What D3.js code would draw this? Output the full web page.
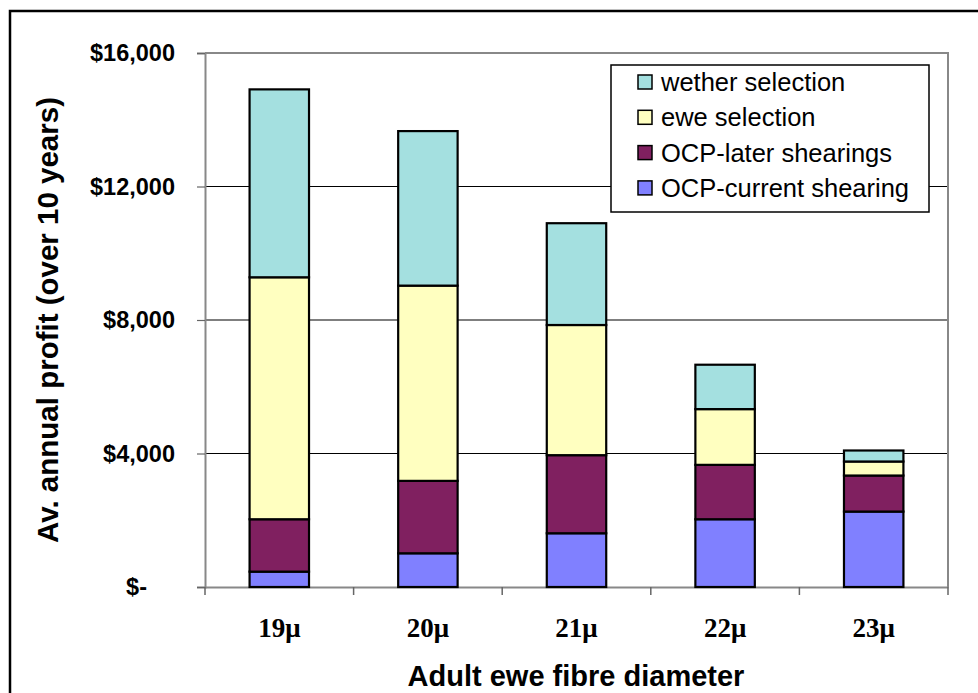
<!DOCTYPE html>
<html>
<head>
<meta charset="utf-8">
<script src="https://cdn.jsdelivr.net/npm/d3@7"></script>
<style>
  html, body { margin: 0; padding: 0; background: #fff; }
  svg { display: block; }
</style>
</head>
<body>
<svg id="chart" width="978" height="693"></svg>
<script>
// ---- data ----
const categories = ["19\u03BC", "20\u03BC", "21\u03BC", "22\u03BC", "23\u03BC"];
const seriesNames = ["OCP-current shearing", "OCP-later shearings", "ewe selection", "wether selection"];
const ocpCurrent = [460, 1010, 1610, 2030, 2260];
const ocpLater   = [1570, 2170, 2340, 1630, 1080];
const eweSel     = [7250, 5850, 3900, 1670, 420];
const wetherSel  = [5630, 4630, 3050, 1330, 330];
const yTickValues = [0, 4000, 8000, 12000, 16000];
const yTickLabels = ["$-", "$4,000", "$8,000", "$12,000", "$16,000"];
const legendOrder = ["wether selection", "ewe selection", "OCP-later shearings", "OCP-current shearing"];
const colors = {
  "OCP-current shearing": "#8080FF",
  "OCP-later shearings": "#802060",
  "ewe selection": "#FFFFC0",
  "wether selection": "#A4E0E0"
};

const seriesValues = [ocpCurrent, ocpLater, eweSel, wetherSel];
const rows = categories.map((c, i) => {
  const r = { cat: c };
  seriesNames.forEach((s, j) => r[s] = seriesValues[j][i]);
  return r;
});

const svg = d3.select("#chart");
const pL = 205, pR = 948, pT = 53, pB = 587;

// outer frame
svg.append("rect").attr("x", 10).attr("y", 11).attr("width", 1000).attr("height", 1000)
  .attr("fill", "#fff").attr("stroke", "#000").attr("stroke-width", 2.5);

const x = d3.scaleBand().domain(categories).range([pL, pR]).paddingInner(0.6).paddingOuter(0.3);
const y = d3.scaleLinear().domain([0, 16000]).range([pB, pT]);

// gridlines
svg.append("g").selectAll("line").data(yTickValues.filter(v => v > 0 && v < 16000)).join("line")
  .attr("x1", pL).attr("x2", pR).attr("y1", d => y(d)).attr("y2", d => y(d))
  .attr("stroke", "#000").attr("stroke-width", 1.2);

// plot border (top & right grey)
svg.append("path").attr("d", `M${pL},${pT}H${pR}V${pB}`)
  .attr("fill", "none").attr("stroke", "#888").attr("stroke-width", 2);

// y axis
const yAxis = d3.axisLeft(y).tickValues(yTickValues).tickSize(8).tickPadding(22)
  .tickFormat((d, i) => yTickLabels[i]);
const gy = svg.append("g").attr("transform", `translate(${pL},0)`).call(yAxis);
gy.select(".domain").attr("stroke", "#888").attr("stroke-width", 2);
gy.selectAll(".tick line").attr("stroke", "#666").attr("stroke-width", 1.2);
gy.selectAll(".tick text").attr("font-family", "Liberation Sans, Arial, sans-serif")
  .attr("font-weight", "bold").attr("font-size", 23.5).attr("fill", "#000")
  .attr("dx", d => d === 0 ? -28 : 0);

// x axis
const xAxis = d3.axisBottom(x).tickSize(0).tickPadding(31);
const gx = svg.append("g").attr("transform", `translate(0,${pB})`).call(xAxis);
gx.select(".domain").attr("stroke", "#888").attr("stroke-width", 2);
gx.selectAll(".tick text").attr("font-family", "Liberation Serif, Times New Roman, serif")
  .attr("font-weight", "bold").attr("font-size", 27).attr("fill", "#000");
// category boundary ticks
const boundaryX = d3.range(categories.length + 1).map(i => pL + i * x.step());
svg.append("g").selectAll("line").data(boundaryX).join("line")
  .attr("x1", d => d).attr("x2", d => d).attr("y1", pB).attr("y2", pB + 8)
  .attr("stroke", "#666").attr("stroke-width", 1.5);

// stacked bars
const stack = d3.stack().keys(seriesNames);
const stacked = stack(rows);
svg.append("g").selectAll("g").data(stacked).join("g")
  .attr("fill", d => colors[d.key])
  .selectAll("rect").data(d => d).join("rect")
  .attr("x", d => x(d.data.cat))
  .attr("width", x.bandwidth())
  .attr("y", d => y(d[1]))
  .attr("height", d => y(d[0]) - y(d[1]))
  .attr("stroke", "#000").attr("stroke-width", 2.2);

// legend
const lg = svg.append("g");
lg.append("rect").attr("x", 611).attr("y", 65).attr("width", 318).attr("height", 147)
  .attr("fill", "#fff").attr("stroke", "#000").attr("stroke-width", 1.5);
legendOrder.forEach((name, i) => {
  const cy = 82 + i * 35.3;
  lg.append("rect").attr("x", 638).attr("y", cy - 7).attr("width", 14).attr("height", 14)
    .attr("fill", colors[name]).attr("stroke", "#000").attr("stroke-width", 1.5);
  lg.append("text").attr("x", 661).attr("y", cy + 9)
    .attr("font-family", "Liberation Sans, Arial, sans-serif").attr("font-size", 25.5)
    .attr("fill", "#000").text(name);
});

// axis titles
svg.append("text").attr("transform", "translate(58,320) rotate(-90)")
  .attr("text-anchor", "middle")
  .attr("font-family", "Liberation Sans, Arial, sans-serif").attr("font-weight", "bold")
  .attr("font-size", 29.5).attr("fill", "#000")
  .text("Av. annual profit (over 10 years)");
svg.append("text").attr("x", 576).attr("y", 686)
  .attr("text-anchor", "middle")
  .attr("font-family", "Liberation Sans, Arial, sans-serif").attr("font-weight", "bold")
  .attr("font-size", 29).attr("fill", "#000")
  .text("Adult ewe fibre diameter");
</script>
</body>
</html>
